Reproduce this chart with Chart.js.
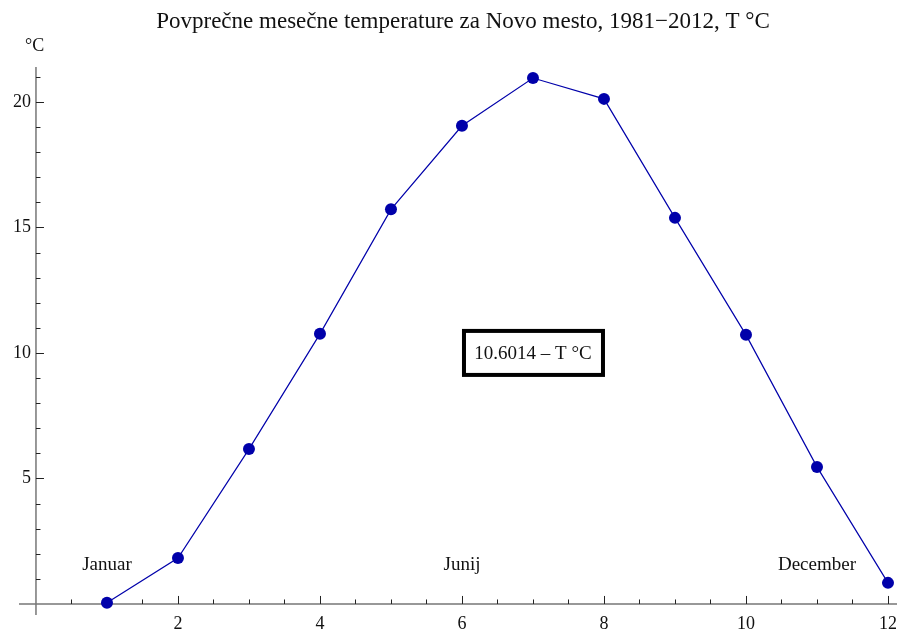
<!DOCTYPE html>
<html>
<head>
<meta charset="utf-8">
<script src="https://cdn.jsdelivr.net/npm/chart.js@4.4.0/dist/chart.umd.min.js"></script>
<style>
  html, body { margin: 0; padding: 0; background: #fff; overflow: hidden; }
  canvas { display: block; }
</style>
</head>
<body>
<canvas id="tempChart" width="897" height="635"></canvas>
<script>
// monthly averages, Novo mesto 1981-2012
const months = [1,2,3,4,5,6,7,8,9,10,11,12];
const temps = [0.05,1.83,6.17,10.76,15.72,19.05,20.95,20.12,15.38,10.72,5.46,0.84];

const xTicks = [2,4,6,8,10,12];
const yTicks = [5,10,15,20];

// month names placed on the plot
const monthLabels = [
  {x: 1, y: 1.55, text: 'Januar'},
  {x: 6, y: 1.55, text: 'Junij'},
  {x: 11, y: 1.55, text: 'December'}
];

const titleText = 'Povprečne mesečne temperature za Novo mesto, 1981\u22122012, T °C';
const meanText = '10.6014 \u2013 T °C';

const serif = '"Liberation Serif", "DejaVu Serif", serif';
const blue = 'rgb(0,0,170)';

// axes through the origin, ticks pointing inward
const axesPlugin = {
  id: 'axes',
  beforeDatasetsDraw(chart) {
    const {ctx, chartArea, scales: {x, y}} = chart;
    const x0 = x.getPixelForValue(0);
    const y0 = y.getPixelForValue(0);
    ctx.save();
    ctx.strokeStyle = '#777';
    ctx.lineWidth = 1.5;
    ctx.beginPath();
    ctx.moveTo(chartArea.left, y0);
    ctx.lineTo(chartArea.right, y0);
    ctx.moveTo(x0, chartArea.top);
    ctx.lineTo(x0, chartArea.bottom);
    ctx.stroke();

    ctx.strokeStyle = '#222';
    ctx.lineWidth = 1;
    ctx.beginPath();
    for (let v = 0.5; v <= 12; v += 0.5) {
      const px = Math.round(x.getPixelForValue(v)) + 0.5;
      const len = xTicks.includes(v) ? 8 : 4.5;
      ctx.moveTo(px, y0);
      ctx.lineTo(px, y0 - len);
    }
    for (let v = 1; v <= 21; v += 1) {
      const py = Math.round(y.getPixelForValue(v)) + 0.5;
      const len = yTicks.includes(v) ? 8 : 4.5;
      ctx.moveTo(x0, py);
      ctx.lineTo(x0 + len, py);
    }
    ctx.stroke();

    ctx.fillStyle = '#111';
    ctx.font = '18px ' + serif;
    ctx.textAlign = 'center';
    ctx.textBaseline = 'top';
    xTicks.forEach(v => ctx.fillText(String(v), x.getPixelForValue(v), y0 + 11));
    ctx.textAlign = 'right';
    ctx.textBaseline = 'middle';
    yTicks.forEach(v => ctx.fillText(String(v), x0 - 5, y.getPixelForValue(v)));
    ctx.restore();
  },
  afterDraw(chart) {
    const {ctx, scales: {x, y}} = chart;
    ctx.save();
    ctx.fillStyle = '#111';
    ctx.font = '23px ' + serif;
    ctx.textAlign = 'center';
    ctx.textBaseline = 'alphabetic';
    ctx.fillText(titleText, 463, 28);

    ctx.font = '18px ' + serif;
    ctx.textAlign = 'left';
    ctx.fillText('°C', 25, 51);

    ctx.font = '19px ' + serif;
    ctx.textAlign = 'center';
    ctx.textBaseline = 'middle';
    monthLabels.forEach(m => ctx.fillText(m.text, x.getPixelForValue(m.x), y.getPixelForValue(m.y)));

    // framed mean value
    const bx = x.getPixelForValue(7);
    const by = y.getPixelForValue(10);
    ctx.lineWidth = 4;
    ctx.strokeStyle = '#000';
    ctx.strokeRect(bx - 69, by - 22, 139, 44);
    ctx.fillText(meanText, bx, by + 1);
    ctx.restore();
  }
};

new Chart(document.getElementById('tempChart'), {
  type: 'line',
  data: {
    datasets: [{
      data: months.map((m, i) => ({x: m, y: temps[i]})),
      borderColor: blue,
      borderWidth: 1.2,
      backgroundColor: blue,
      pointBackgroundColor: blue,
      pointBorderWidth: 0,
      pointRadius: 6,
      tension: 0,
      clip: false
    }]
  },
  options: {
    responsive: false,
    animation: false,
    layout: {
      autoPadding: false,
      padding: {top: 67, left: 19, right: 0, bottom: 20}
    },
    plugins: {
      legend: {display: false},
      tooltip: {enabled: false}
    },
    scales: {
      x: {type: 'linear', min: -0.239, max: 12.127, display: false},
      y: {type: 'linear', min: -0.44, max: 21.39, display: false}
    }
  },
  plugins: [axesPlugin]
});
</script>
</body>
</html>
